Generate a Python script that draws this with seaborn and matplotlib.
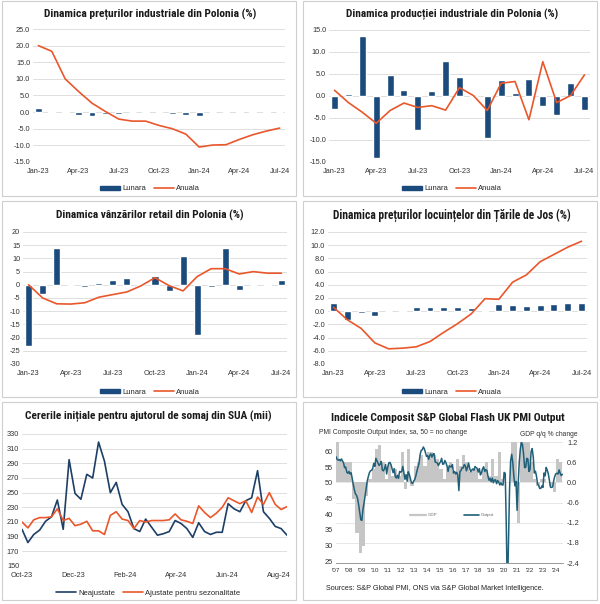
import numpy as np
import pandas as pd
import matplotlib
matplotlib.use('Agg')
import matplotlib.pyplot as plt
import seaborn as sns
from matplotlib.patches import Rectangle, Patch
from matplotlib.lines import Line2D
from matplotlib.ticker import FormatStrFormatter

# ---- data ----
months = ['Jan-23', 'Feb-23', 'Mar-23', 'Apr-23', 'May-23', 'Jun-23', 'Jul-23', 'Aug-23', 'Sep-23',
          'Oct-23', 'Nov-23', 'Dec-23', 'Jan-24', 'Feb-24', 'Mar-24', 'Apr-24', 'May-24', 'Jun-24', 'Jul-24']

ppi_lunara = [1.3, -0.4, -0.4, -0.8, -1.3, -0.5, -0.6, 0.0, 0.3, -0.3, -0.7, -1.0, -1.2, 0.0, -0.3, 0.3, -0.2, 0.3, 0.0]
ppi_anuala = [20.0, 18.3, 10.0, 6.2, 2.7, 0.2, -2.1, -2.7, -2.7, -4.0, -5.0, -6.6, -10.5, -9.9, -9.8, -8.2, -6.8, -5.7, -4.8]

ind_lunara = [-3.0, 0.4, 13.7, -14.1, 4.7, 1.4, -7.8, 1.1, 7.9, 4.4, 0.3, -9.5, 3.6, 0.7, 3.8, -2.2, -4.4, 2.9, -3.2]
ind_anuala = [1.3, -1.5, -3.7, -6.2, -3.3, -1.6, -2.6, -2.2, -3.2, 1.9, 0.1, -3.3, 2.9, 3.3, -5.4, 7.8, -1.5, 0.1, 4.8]

ret_lunara = [-23.0, -3.3, 13.8, 0.1, -0.8, 0.8, 1.8, 2.7, -0.5, 3.2, -2.5, 10.9, -19.2, -0.8, 14.0, -1.8, 0.0, 0.2, 1.8]
ret_anuala = [0.0, -5.0, -7.2, -7.3, -6.8, -4.7, -3.7, -2.7, -0.4, 2.7, -0.3, -2.3, 3.1, 6.1, 6.1, 4.1, 5.0, 4.4, 4.4]

nl_lunara = [1.3, -1.3, -0.3, -0.8, 0.0, 0.2, 0.6, 0.6, 0.6, 0.7, 0.5, 0.2, 1.1, 1.0, 0.8, 1.0, 1.1, 1.3, 1.3]
nl_anuala = [0.6, -1.3, -2.6, -4.8, -5.7, -5.6, -5.4, -4.6, -3.2, -1.9, -0.4, 1.9, 1.8, 4.4, 5.5, 7.5, 8.6, 9.7, 10.6]

# US initial jobless claims, weekly (thousands)
claims_start = '2023-10-07'
claims_nsa = [200, 182, 193, 199, 211, 217, 240, 200, 295, 249, 241, 275, 270, 319, 293, 250, 264, 234, 224, 201,
              197, 214, 203, 192, 194, 197, 212, 208, 201, 189, 209, 197, 193, 196, 196, 235, 228, 224, 239, 243,
              280, 224, 215, 204, 201, 192]
claims_sa = [210, 202, 213, 216, 216, 217, 228, 212, 215, 205, 207, 211, 198, 198, 193, 219, 224, 214, 212, 201,
             212, 210, 212, 212, 212, 213, 221, 213, 211, 208, 232, 223, 216, 222, 230, 243, 239, 235, 239, 223,
             244, 234, 250, 234, 227, 231]
claims_ticks = ['2023-10-07', '2023-12-07', '2024-02-07', '2024-04-07', '2024-06-07', '2024-08-07']
claims_ticklabels = ['Oct-23', 'Dec-23', 'Feb-24', 'Apr-24', 'Jun-24', 'Aug-24']

# UK composite PMI output, monthly from Jan 2007
pmi = [58.3, 57.5, 57.2, 57.4, 57.0, 57.6, 57.0, 56.3, 54.8, 55.0, 53.4, 53.0,
       53.6, 52.8, 53.2, 51.5, 49.5, 47.8, 46.5, 46.0, 45.0, 43.0, 40.5, 38.2,
       38.0, 41.5, 43.5, 45.8, 48.2, 50.6, 52.0, 53.2, 53.8, 54.0, 54.5, 56.2,
       55.2, 57.8, 57.0, 56.2, 55.5, 56.0, 56.8, 54.0, 53.8, 54.5, 55.8, 52.8,
       55.0, 56.3, 56.5, 55.8, 54.5, 53.2, 54.5, 52.0, 51.5, 52.4, 51.4, 53.6,
       53.4, 53.6, 55.2, 53.1, 51.1, 52.6, 50.5, 53.5, 52.7, 51.4, 50.0, 49.8,
       50.5, 51.0, 52.1, 53.6, 54.9, 56.2, 58.9, 60.3, 60.5, 61.4, 60.8, 59.6,
       58.4, 58.7, 57.5, 58.7, 59.2, 58.2, 59.1, 59.3, 56.6, 56.5, 56.3, 55.5,
       56.2, 56.7, 57.8, 55.9, 56.0, 57.1, 56.4, 55.3, 53.6, 55.4, 55.2, 55.0,
       55.8, 53.1, 53.6, 52.8, 53.3, 52.4, 47.5, 53.6, 53.9, 54.8, 54.7, 55.8,
       55.4, 53.8, 54.9, 56.3, 54.6, 53.5, 54.1, 54.4, 54.0, 55.2, 54.8, 54.6,
       53.4, 54.5, 52.5, 53.2, 54.5, 55.1, 53.6, 54.2, 53.9, 52.1, 50.8, 51.4,
       50.3, 51.5, 50.0, 50.9, 50.9, 49.7, 50.7, 50.2, 49.3, 50.0, 49.3, 49.3,
       53.3, 53.0, 36.0, 13.8, 30.0, 47.7, 57.0, 59.1, 56.5, 52.1, 49.0, 50.4,
       41.2, 49.6, 56.4, 60.7, 62.9, 62.2, 59.2, 54.8, 54.9, 57.8, 57.6, 53.6,
       54.2, 59.9, 60.9, 58.2, 53.1, 53.7, 52.1, 49.6, 49.1, 48.2, 48.2, 49.0,
       48.5, 53.1, 52.2, 54.9, 54.0, 52.8, 50.8, 48.6, 48.5, 48.7, 50.7, 52.1,
       52.9, 53.0, 52.8, 54.1, 53.0, 52.3, 52.7]

# UK GDP q/q %, quarterly from 2007Q1 (NaN = not visible on the chart)
gdp = [1.2, 0.7, 0.6, 0.6,
       0.6, -0.5, -1.5, -2.1,
       -1.9, -0.4, 0.1, 0.4,
       1.0, 1.1, 0.6, 0.1,
       0.6, 0.2, 0.4, 0.2,
       0.9, -0.2, 1.0, -0.1,
       0.5, 0.6, 0.8, 0.5,
       0.9, 0.9, 0.8, 0.7,
       0.4, 0.1, 0.4, 0.6,
       0.3, 0.7, 0.5, 0.8,
       0.6, 0.3, 0.4, 0.4,
       0.1, 0.4, 0.6, 0.2,
       0.7, 0.2, 0.9, 0.1,
       np.nan, np.nan, 1.3, 1.3,
       -1.2, 1.3, 1.3, 1.3,
       0.6, 0.1, -0.1, 0.1,
       0.1, 0.0, -0.1, -0.3,
       0.7, 0.6]
years = ["'07", "'08", "'09", "'10", "'11", "'12", "'13", "'14", "'15", "'16", "'17", "'18",
         "'19", "'20", "'21", "'22", "'23", "'24"]

# ---- style ----
NAVY = '#1b4a7c'
ORANGE = '#e9572b'
DARKBLUE = '#1d3f66'
TEAL = '#1f5f78'
GRAY = '#c6c6c6'
GRID = '#d9d9d9'
TICK_FS = 5.3

sns.set_style('white')
plt.rcParams['font.family'] = ['Liberation Sans', 'DejaVu Sans']
TITLE_FONT = ['Roboto Condensed', 'Open Sans Condensed', 'Liberation Sans Narrow', 'DejaVu Sans']

W, H = 600, 604
fig = plt.figure(figsize=(W / 100, H / 100), dpi=100)


def px_axes(l, t, r, b):
    return fig.add_axes([l / W, 1 - b / H, (r - l) / W, (b - t) / H])


def ftext(x, y, s, **kw):
    return fig.text(x / W, 1 - y / H, s, **kw)


def title(x, y, s, width_px):
    # bold condensed title, sized so it spans the same width as in the reference
    t = ftext(x, y, s, ha='center', va='center', fontsize=9, fontweight='bold',
              family=TITLE_FONT, fontstretch='condensed', color='#1a1a1a')
    w = t.get_window_extent(fig.canvas.get_renderer()).width
    t.set_fontsize(9 * width_px / w)


def box(l, t, r, b):
    fig.patches.append(Rectangle((l / W, 1 - b / H), (r - l) / W, (b - t) / H, transform=fig.transFigure,
                                 fill=False, edgecolor='#cfcfcf', lw=0.8))


def clean_axes(ax):
    for s in ax.spines.values():
        s.set_visible(False)
    ax.grid(axis='y', color=GRID, lw=0.6)
    ax.grid(axis='x', visible=False)
    ax.set_axisbelow(True)
    ax.tick_params(axis='y', length=0, labelsize=TICK_FS, colors='#333333', pad=2)
    ax.tick_params(axis='x', length=0, labelsize=TICK_FS, colors='#333333', pad=4)
    ax.set_xlabel('')
    ax.set_ylabel('')


def bar_line_panel(ax, lunara, anuala, ylim, step, fmt, legend_xy):
    df = pd.DataFrame({'idx': np.arange(len(months)), 'Lunara': lunara, 'Anuala': anuala})
    sns.barplot(data=df, x='idx', y='Lunara', native_scale=True, width=0.5, color=NAVY,
                saturation=1, ax=ax, zorder=2)
    sns.lineplot(data=df, x='idx', y='Anuala', color=ORANGE, lw=1.2, ax=ax, zorder=3)
    ax.set_xlim(-0.4, len(months) - 0.6)
    ax.set_ylim(*ylim)
    ax.set_yticks(np.arange(ylim[0], ylim[1] + step / 2, step))
    ax.yaxis.set_major_formatter(FormatStrFormatter(fmt))
    ax.set_xticks(range(0, len(months), 3))
    ax.set_xticklabels(months[::3])
    clean_axes(ax)
    handles = [Patch(color=NAVY), Line2D([], [], color=ORANGE, lw=1.2)]
    fig.legend(handles, ['Lunara', 'Anuala'], loc='center', ncol=2, frameon=False,
               bbox_to_anchor=(legend_xy[0] / W, 1 - legend_xy[1] / H), fontsize=5.5,
               handlelength=2.6, handleheight=0.5, columnspacing=1.0, handletextpad=0.3)


# panel boxes
box(2, 1, 296, 196)
box(303, 1, 597, 196)
box(2, 201, 296, 397)
box(303, 201, 597, 397)
box(2, 402, 296, 600)
box(303, 402, 597, 600)

# ---- panel 1: industrial prices ----
ax1 = px_axes(33, 29, 285, 162)
bar_line_panel(ax1, ppi_lunara, ppi_anuala, (-15, 25), 5, '%.1f', (150, 189))
title(150, 14, 'Dinamica prețurilor industriale din Polonia (%)', 212)

# ---- panel 2: industrial production ----
ax2 = px_axes(329, 30, 590, 162)
bar_line_panel(ax2, ind_lunara, ind_anuala, (-15, 15), 5, '%.1f', (452, 189))
title(452, 14, 'Dinamica producției industriale din Polonia (%)', 212)

# ---- panel 3: retail sales ----
ax3 = px_axes(23, 232, 287, 364)
bar_line_panel(ax3, ret_lunara, ret_anuala, (-30, 20), 5, '%d', (150, 392))
title(150, 215, 'Dinamica vânzărilor retail din Polonia (%)', 188)

# ---- panel 4: Dutch house prices ----
ax4 = px_axes(328, 232, 587, 364)
bar_line_panel(ax4, nl_lunara, nl_anuala, (-8, 12), 2, '%.1f', (452, 392))
title(452, 215, 'Dinamica prețurilor locuințelor din Țările de Jos (%)', 239)

# ---- panel 5: US jobless claims ----
ax5 = px_axes(22, 434, 287, 566)
weeks = pd.date_range(claims_start, periods=len(claims_nsa), freq='7D')
claims = pd.DataFrame({'week': weeks, 'nsa': claims_nsa, 'sa': claims_sa})
sns.lineplot(data=claims, x='week', y='nsa', color=DARKBLUE, lw=1.2, ax=ax5, zorder=3)
sns.lineplot(data=claims, x='week', y='sa', color=ORANGE, lw=1.2, ax=ax5, zorder=3)
ax5.set_xlim(weeks[0], weeks[-1])
ax5.set_ylim(150, 330)
ax5.set_yticks(range(150, 331, 20))
ax5.set_xticks(pd.to_datetime(claims_ticks))
ax5.set_xticklabels(claims_ticklabels)
clean_axes(ax5)
fig.legend([Line2D([], [], color=DARKBLUE, lw=1.2), Line2D([], [], color=ORANGE, lw=1.2)],
           ['Neajustate', 'Ajustate pentru sezonalitate'], loc='center', ncol=2, frameon=False,
           bbox_to_anchor=(148 / W, 1 - 593 / H), fontsize=5.5, handlelength=2.6,
           columnspacing=1.0, handletextpad=0.3)
title(148, 416, 'Cererile inițiale pentru ajutorul de somaj din SUA (mii)', 248)

# ---- panel 6: UK PMI vs GDP ----
ax6 = px_axes(336, 442, 563, 563)
ax6r = ax6.twinx()
pmi_df = pd.DataFrame({'t': 2007 + np.arange(len(pmi)) / 12, 'pmi': pmi})
gdp_df = pd.DataFrame({'t': 2007.125 + np.arange(len(gdp)) / 4, 'gdp': gdp}).dropna()
sns.barplot(data=gdp_df, x='t', y='gdp', native_scale=True, width=1.0, color=GRAY,
            saturation=1, linewidth=0, ax=ax6r)
sns.lineplot(data=pmi_df, x='t', y='pmi', color=TEAL, lw=1.1, ax=ax6)
ax6.set_zorder(ax6r.get_zorder() + 1)
ax6.patch.set_visible(False)
ax6.set_xlim(2007, 2024.55)
ax6.set_ylim(24.4, 63)
ax6.set_yticks(range(25, 61, 5))
ax6r.set_ylim(-2.4, 1.2)
ax6r.set_yticks(np.arange(-2.4, 1.21, 0.6))
ax6r.yaxis.set_major_formatter(FormatStrFormatter('%.1f'))
ax6.set_xticks(np.arange(2007, 2025))
ax6.set_xticklabels(years)
for a in (ax6, ax6r):
    for s in a.spines.values():
        s.set_visible(False)
    a.set_xlabel('')
    a.set_ylabel('')
ax6.grid(False)
ax6r.grid(axis='y', color='#e3e3e3', lw=0.6)
ax6r.grid(axis='x', visible=False)
ax6.spines['bottom'].set_visible(True)
ax6.spines['bottom'].set_color('#888888')
ax6.spines['bottom'].set_linewidth(0.6)
ax6.tick_params(axis='y', length=0, labelsize=5.3, colors='#333333', pad=2)
ax6.tick_params(axis='x', length=2, width=0.5, color='#888888', labelsize=4.6, colors='#333333', pad=1.5)
ax6r.tick_params(axis='y', length=0, labelsize=5.3, colors='#333333', pad=3)
fig.legend([Line2D([], [], color=GRAY, lw=1.6), Line2D([], [], color=TEAL, lw=1.2)],
           ['GDP', 'Output'], loc='center', ncol=2, frameon=False,
           bbox_to_anchor=(452 / W, 1 - 515 / H), fontsize=3.2, handlelength=3.5,
           columnspacing=6.0, handletextpad=0.4, labelcolor='#666666')
title(448, 418, 'Indicele Composit S&P Global Flash UK PMI Output', 235)
ftext(319, 432, 'PMI Composite Output Index, sa, 50 = no change', ha='left', va='center',
      fontsize=4.9, color='#333333')
ftext(578, 434, 'GDP q/q % change', ha='right', va='center', fontsize=4.9, color='#333333')
ftext(326, 588, 'Sources: S&P Global PMI, ONS via S&P Global Market Intelligence.', ha='left',
      va='center', fontsize=5.2, color='#222222')

fig.savefig('out.png', dpi=100)
